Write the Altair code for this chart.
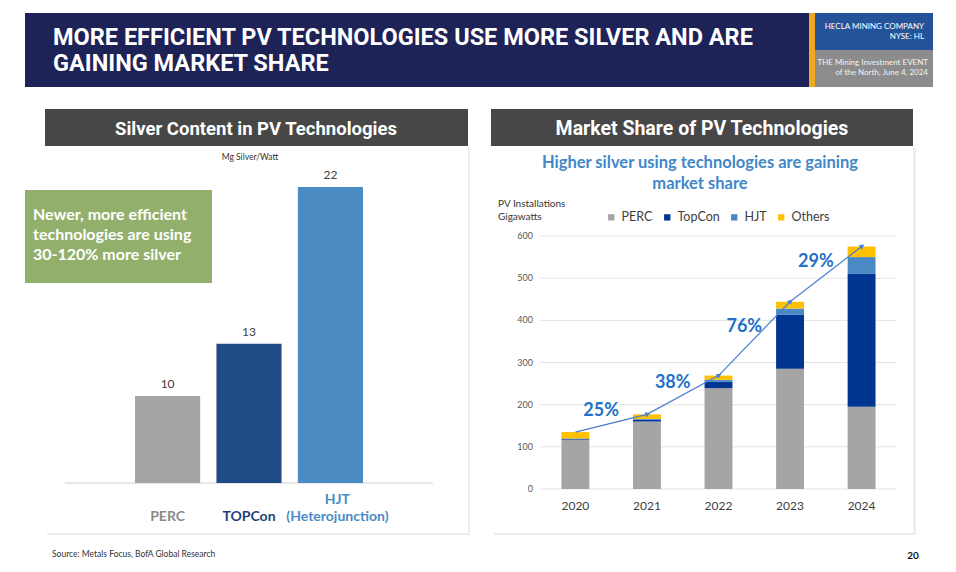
import math
import altair as alt
import pandas as pd

# ---- silver content per technology (mg silver / watt) ----
tech = ["PERC", "TOPCon", "HJT"]
silver_mg_per_watt = [10, 13, 22]
tech_axis_labels = [["PERC"], ["TOPCon"], ["HJT", "(Heterojunction)"]]
tech_bar_colors = ["#a5a5a5", "#1f4a86", "#4a8bc4"]
tech_label_colors = ["#8a8a8a", "#1f3f7a", "#4a8bc4"]
silver_axis_floor = 5

# ---- PV installations by technology (GW) ----
years = ["2020", "2021", "2022", "2023", "2024"]
perc_gw = [117, 160, 239, 285, 195]
topcon_gw = [2, 4, 15, 128, 316]
hjt_gw = [1, 2, 5, 15, 39]
others_gw = [15, 11, 10, 16, 25]
series_names = ["PERC", "TopCon", "HJT", "Others"]
series_colors = ["#a5a5a5", "#003591", "#4a8ac4", "#ffc000"]
growth_labels = ["25%", "38%", "76%", "29%"]
gw_ticks = [0, 100, 200, 300, 400, 500, 600]

W, H = 956, 572
TITLE_FONT = "Roboto"
BODY_FONT = "Lato"

# pixel ranges of the two plotting regions on the slide
LEFT_X = alt.Scale(domain=tech, range=[65, 433], paddingInner=0.2, paddingOuter=0.86)
LEFT_Y = alt.Scale(domain=[silver_axis_floor, 22], range=[483, 187])
RX_RANGE = [540, 897]
RY_RANGE = [489, 236]
R_PAD_IN, R_PAD_OUT = 0.61, 0.3
RIGHT_X = alt.Scale(domain=years, range=RX_RANGE, paddingInner=R_PAD_IN, paddingOuter=R_PAD_OUT)
RIGHT_Y = alt.Scale(domain=[0, 600], range=RY_RANGE)

one = alt.Chart(pd.DataFrame({"k": [0]}))


def box(x, x2, y, y2, color, **kw):
    return one.mark_rect(color=color, **kw).encode(
        x=alt.value(x), x2=alt.value(x2), y=alt.value(y), y2=alt.value(y2)
    )


def label(text, x, y, size, color="#333333", font=BODY_FONT, weight="normal", align="left", **kw):
    return one.mark_text(
        text=text, font=font, fontSize=size, fontWeight=weight, color=color,
        align=align, baseline="middle", **kw
    ).encode(x=alt.value(x), y=alt.value(y))


decor = [
    # slide header
    box(25, 809, 13, 87, "#1d2257"),
    box(809, 815, 13, 87, "#f0a81c"),
    box(815, 933, 13, 50, "#24539a"),
    box(815, 933, 50, 87, "#8c8c8c"),
    label(["MORE EFFICIENT PV TECHNOLOGIES USE MORE SILVER AND ARE", "GAINING MARKET SHARE"],
          53, 38, 23.5, color="white", font=TITLE_FONT, weight="bold", lineHeight=26),
    label("HECLA MINING COMPANY", 924, 27, 8, color="white", align="right"),
    label("NYSE: HL", 924, 37, 8, color="white", align="right"),
    label("THE Mining Investment EVENT", 928, 63, 8, color="#f2f2f2", align="right"),
    label("of the North, June 4, 2024", 928, 73, 8, color="#f2f2f2", align="right"),
    # panels
    box(47, 470, 148, 535, "#ededed"),
    box(494, 916, 148, 535, "#ededed"),
    box(45, 468, 109, 533, "white"),
    box(491, 913, 109, 533, "white"),
    box(45, 468, 109, 146, "#474747"),
    box(491, 913, 109, 146, "#474747"),
    label("Silver Content in PV Technologies", 256, 129, 18.5, color="white",
          font=TITLE_FONT, weight="bold", align="center"),
    label("Market Share of PV Technologies", 702, 129, 19.5, color="white",
          font=TITLE_FONT, weight="bold", align="center"),
    # left panel annotations
    label("Mg Silver/Watt", 250, 157, 8.5, color="#333333", align="center"),
    box(25, 212, 190, 283, "#92b06b"),
    label(["Newer, more efficient", "technologies are using", "30-120% more silver"],
          33, 215, 16, color="white", weight="bold", lineHeight=20),
    # right panel annotations
    label(["Higher silver using technologies are gaining", "market share"],
          700, 163, 16.5, color="#3f87c8", weight="bold", align="center", lineHeight=21),
    label(["PV Installations", "Gigawatts"], 498, 204, 10, color="#333333", lineHeight=13),
    # footer
    label("Source: Metals Focus, BofA Global Research", 52, 554, 8.5, color="#333333"),
    label("20", 913, 556, 10, color="#111111", weight="bold", align="center"),
]

# ---- left chart ----
left_df = pd.DataFrame({
    "tech": tech,
    "mg": silver_mg_per_watt,
    "axis_label": tech_axis_labels,
    "bar_color": tech_bar_colors,
    "label_color": tech_label_colors,
})
lx = alt.X("tech:N", scale=LEFT_X, axis=None)
ly = alt.Y("mg:Q", scale=LEFT_Y, axis=None)

left_bars = alt.Chart(left_df).mark_bar().encode(
    x=lx, y=ly, y2=alt.datum(silver_axis_floor),
    color=alt.Color("bar_color:N", scale=None),
)
left_values = alt.Chart(left_df).mark_text(
    baseline="bottom", dy=-5, font=BODY_FONT, fontSize=12, color="#404040"
).encode(x=lx, y=ly, text="mg:Q")
left_baseline = alt.Chart(pd.DataFrame({"mg": [silver_axis_floor]})).mark_rule(
    color="#d0d0d0", strokeWidth=1
).encode(x=alt.value(65), x2=alt.value(433), y=ly)

cat_style = dict(baseline="middle", font=BODY_FONT, fontSize=14, fontWeight="bold", lineHeight=17)
cat_enc = dict(x=lx, text="axis_label:N", color=alt.Color("label_color:N", scale=None))
# single-line category names sit on the lower line, the two-line HJT name starts one line up
left_cats = alt.Chart(left_df).transform_filter(
    alt.datum.tech != "HJT"
).mark_text(**cat_style).encode(y=alt.value(517), **cat_enc)
left_cats_hjt = alt.Chart(left_df).transform_filter(
    alt.datum.tech == "HJT"
).mark_text(dx=7, **cat_style).encode(y=alt.value(500), **cat_enc)
left_chart = alt.layer(left_baseline, left_bars, left_values, left_cats, left_cats_hjt)

# ---- right chart ----
series = [perc_gw, topcon_gw, hjt_gw, others_gw]
rows = []
for si, (name, vals) in enumerate(zip(series_names, series)):
    for y, v in zip(years, vals):
        rows.append({"year": y, "series": name, "gw": v, "order": si})
right_df = pd.DataFrame(rows)

totals = [sum(v) for v in zip(*series)]
step_px = (RX_RANGE[1] - RX_RANGE[0]) / (len(years) - R_PAD_IN + 2 * R_PAD_OUT)
px_per_gw = (RY_RANGE[0] - RY_RANGE[1]) / 600
seg_rows = []
for i in range(len(years) - 1):
    rise = (totals[i + 1] - totals[i]) * px_per_gw
    seg_rows.append({
        "year": years[i], "year_to": years[i + 1],
        "gw": totals[i], "gw_to": totals[i + 1],
        "gw_mid": (totals[i] + totals[i + 1]) / 2,
        "growth": growth_labels[i],
        "heading": 90 - math.degrees(math.atan2(rise, step_px)),
    })
seg_df = pd.DataFrame(seg_rows)

rx = alt.X("year:N", scale=RIGHT_X, axis=None)
ry = alt.Y("gw:Q", scale=RIGHT_Y, axis=None)

grid = alt.Chart(pd.DataFrame({"gw": gw_ticks})).mark_rule(color="#e3e3e3").encode(
    y=ry, x=alt.value(RX_RANGE[0]), x2=alt.value(RX_RANGE[1])
)
tick_labels = alt.Chart(pd.DataFrame({"gw": gw_ticks})).mark_text(
    align="right", baseline="middle", font=BODY_FONT, fontSize=9, color="#595959"
).encode(y=ry, x=alt.value(533), text="gw:Q")
year_labels = alt.Chart(pd.DataFrame({"year": years})).mark_text(
    baseline="middle", font=BODY_FONT, fontSize=12, color="#404040"
).encode(x=rx, y=alt.value(506), text="year:N")

stack_bars = alt.Chart(right_df).mark_bar().encode(
    x=rx,
    y=alt.Y("gw:Q", stack="zero", scale=RIGHT_Y, axis=None),
    color=alt.Color(
        "series:N",
        scale=alt.Scale(domain=series_names, range=series_colors),
        legend=alt.Legend(
            orient="none", legendX=605, legendY=211, direction="horizontal",
            title=None, symbolType="square", symbolSize=40, symbolStrokeWidth=0,
            labelFont=BODY_FONT, labelFontSize=12.5, labelColor="#404040",
            labelOffset=4, columnPadding=8,
        ),
    ),
    order=alt.Order("order:Q"),
)

arrow_lines = alt.Chart(seg_df).mark_rule(color="#4a7fd0", strokeWidth=1.2).encode(
    x=rx, x2=alt.X2("year_to:N"), y=ry, y2=alt.Y2("gw_to:Q")
)
arrow_heads = alt.Chart(seg_df).mark_point(
    shape="triangle", filled=True, size=30, color="#4a7fd0", opacity=1
).encode(
    x=alt.X("year_to:N", scale=RIGHT_X, axis=None),
    y=alt.Y("gw_to:Q", scale=RIGHT_Y, axis=None),
    angle=alt.Angle("heading:Q", scale=None),
)
growth_text = alt.Chart(seg_df).mark_text(
    font=BODY_FONT, fontSize=18, fontWeight="bold", color="#2471c8",
    dx=step_px / 2 - 10, dy=-12
).encode(
    x=rx,
    y=alt.Y("gw_mid:Q", scale=RIGHT_Y, axis=None),
    text="growth:N",
)

right_chart = alt.layer(grid, tick_labels, year_labels, stack_bars,
                        arrow_lines, arrow_heads, growth_text)

chart = alt.layer(*decor, left_chart, right_chart).resolve_scale(
    x="independent", y="independent"
).properties(
    width=W, height=H, padding=0,
    autosize=alt.AutoSizeParams(type="none"),
    background="white",
).configure_view(stroke=None)

chart.save("out.html", embed_options={"renderer": "svg", "actions": False})
